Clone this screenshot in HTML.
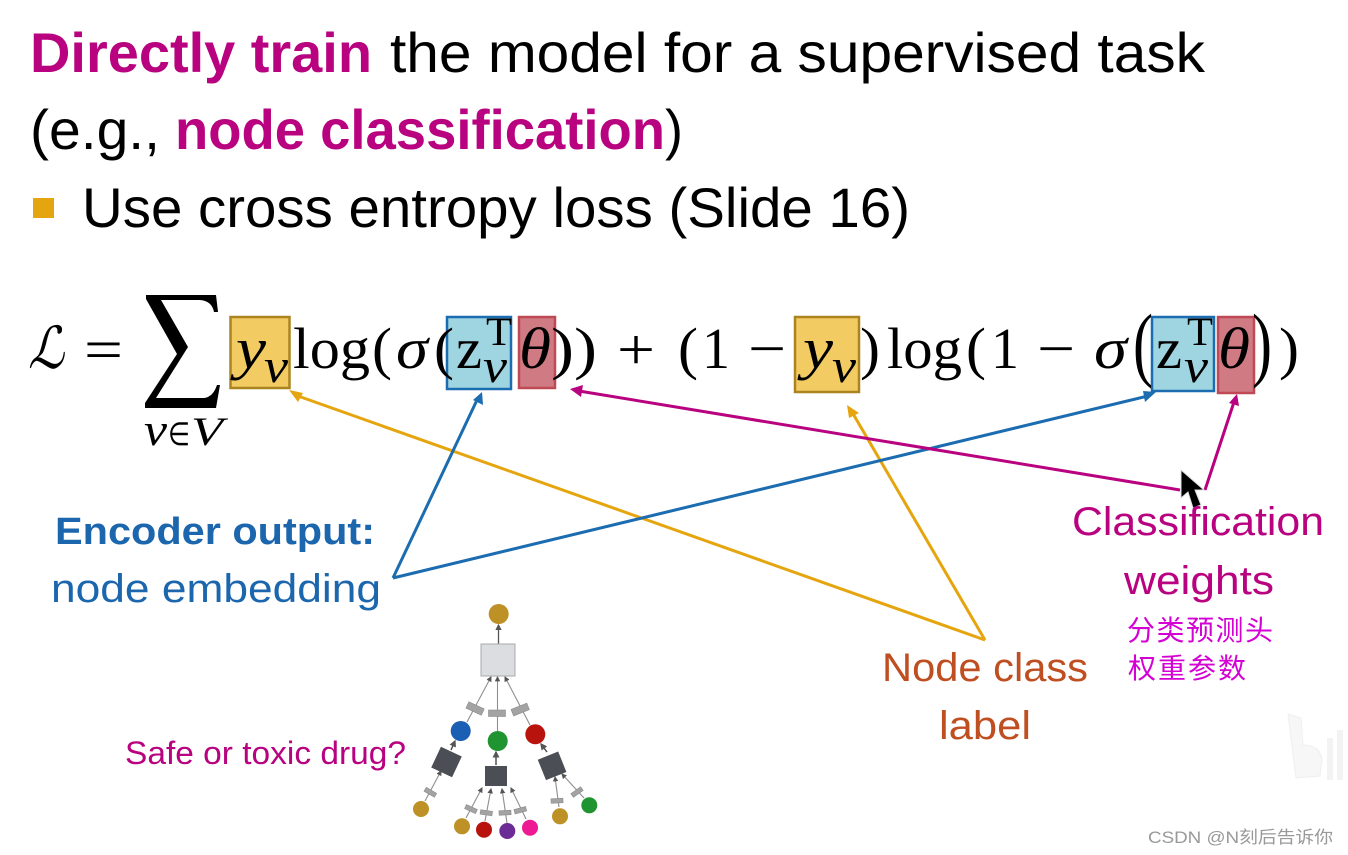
<!DOCTYPE html>
<html><head><meta charset="utf-8"><style>
html,body{margin:0;padding:0;background:#fff;width:1348px;height:855px;overflow:hidden}
svg{display:block}
.s{font-family:"Liberation Sans",sans-serif}
.m{font-family:"Liberation Serif",serif;fill:#000}
.i{font-style:italic}
</style></head><body>
<svg width="1348" height="855" viewBox="0 0 1348 855" xmlns="http://www.w3.org/2000/svg">
<defs>
<marker id="ag" markerWidth="5" markerHeight="5" refX="4" refY="2.5" orient="auto"><path d="M0,0L5,2.5L0,5Z" fill="#555"/></marker>
</defs>

<g class="s" font-size="56">
<text x="30" y="72" font-weight="bold" fill="#b8027f" textLength="342" lengthAdjust="spacingAndGlyphs">Directly train</text>
<text x="390" y="72" fill="#000" textLength="815" lengthAdjust="spacingAndGlyphs">the model for a supervised task</text>
<text x="30" y="149" fill="#000" textLength="130" lengthAdjust="spacingAndGlyphs">(e.g.,</text>
<text x="175" y="149" font-weight="bold" fill="#b8027f" textLength="490" lengthAdjust="spacingAndGlyphs">node classification</text>
<text x="665" y="149" fill="#000" textLength="18" lengthAdjust="spacingAndGlyphs">)</text>
<rect x="33" y="198" width="21" height="20" fill="#e5a50f"/>
<text x="82" y="227" fill="#000" textLength="828" lengthAdjust="spacingAndGlyphs">Use cross entropy loss (Slide 16)</text>
</g>

<rect x="230.500" y="317" width="59" height="71" fill="#f2cb63" stroke="#ab8420" stroke-width="2.5"/>
<rect x="447" y="317" width="64" height="72" fill="#9fd5e0" stroke="#1b6cb0" stroke-width="2.5"/>
<rect x="519" y="317" width="36" height="71" fill="#d07a84" stroke="#bf4a56" stroke-width="2.5"/>
<rect x="795" y="317" width="64" height="75" fill="#f2cb63" stroke="#ab8420" stroke-width="2.5"/>
<rect x="1152" y="317" width="62" height="74" fill="#9fd5e0" stroke="#1b6cb0" stroke-width="2.5"/>
<rect x="1218" y="317" width="36" height="76" fill="#d07a84" stroke="#bf4a56" stroke-width="2.5"/>

<g class="m" font-size="58">
<text x="28" y="368" class="m i" textLength="36" lengthAdjust="spacingAndGlyphs">ℒ</text>
<text x="84" y="369" textLength="39" lengthAdjust="spacingAndGlyphs">=</text>
<path d="M146,295H216L218,312H214Q212,301 200,300H161L188,347L156,398H204Q213,397 217,385H220L216,408H145V403L177,354L146,299Z" fill="#000"/>
<text x="144" y="445" font-size="46" class="m i" textLength="23" lengthAdjust="spacingAndGlyphs">v</text>
<text x="168" y="445" font-size="32" textLength="22" lengthAdjust="spacingAndGlyphs">∈</text>
<text x="191" y="445" font-size="40" class="m i" textLength="32" lengthAdjust="spacingAndGlyphs">V</text>

<text x="236" y="368" class="m i" textLength="30" lengthAdjust="spacingAndGlyphs">y</text>
<text x="264" y="382" font-size="48" class="m i" textLength="24" lengthAdjust="spacingAndGlyphs">v</text>
<text x="293" y="368" textLength="77" lengthAdjust="spacingAndGlyphs">log</text>
<text x="372" y="368" textLength="20" lengthAdjust="spacingAndGlyphs">(</text>
<text x="396" y="368" class="m i" textLength="32" lengthAdjust="spacingAndGlyphs">σ</text>
<text x="434" y="368" textLength="20" lengthAdjust="spacingAndGlyphs">(</text>
<text x="456" y="368" textLength="26" lengthAdjust="spacingAndGlyphs">z</text>
<text x="486" y="345" font-size="40" textLength="26" lengthAdjust="spacingAndGlyphs">T</text>
<text x="483" y="382" font-size="48" class="m i" textLength="24" lengthAdjust="spacingAndGlyphs">v</text>
<text x="519" y="368" class="m i" textLength="32" lengthAdjust="spacingAndGlyphs">θ</text>
<text x="551" y="368" textLength="46" lengthAdjust="spacingAndGlyphs">))</text>
<text x="617" y="369" textLength="38" lengthAdjust="spacingAndGlyphs">+</text>

<text x="678" y="368" textLength="20" lengthAdjust="spacingAndGlyphs">(</text>
<text x="702" y="368" textLength="28" lengthAdjust="spacingAndGlyphs">1</text>
<text x="748" y="368" textLength="38" lengthAdjust="spacingAndGlyphs">−</text>
<text x="803" y="368" class="m i" textLength="30" lengthAdjust="spacingAndGlyphs">y</text>
<text x="832" y="382" font-size="48" class="m i" textLength="24" lengthAdjust="spacingAndGlyphs">v</text>
<text x="860" y="368" textLength="20" lengthAdjust="spacingAndGlyphs">)</text>
<text x="887" y="368" textLength="75" lengthAdjust="spacingAndGlyphs">log</text>
<text x="966" y="368" textLength="20" lengthAdjust="spacingAndGlyphs">(</text>
<text x="991" y="368" textLength="28" lengthAdjust="spacingAndGlyphs">1</text>
<text x="1037" y="368" textLength="38" lengthAdjust="spacingAndGlyphs">−</text>
<text x="1094" y="368" class="m i" textLength="33" lengthAdjust="spacingAndGlyphs">σ</text>
<text transform="translate(1133 371) scale(1 1.43)" textLength="20" lengthAdjust="spacingAndGlyphs">(</text>
<text x="1156" y="368" textLength="26" lengthAdjust="spacingAndGlyphs">z</text>
<text x="1187" y="345" font-size="40" textLength="26" lengthAdjust="spacingAndGlyphs">T</text>
<text x="1184" y="382" font-size="48" class="m i" textLength="24" lengthAdjust="spacingAndGlyphs">v</text>
<text x="1218" y="368" class="m i" textLength="32" lengthAdjust="spacingAndGlyphs">θ</text>
<text transform="translate(1252 371) scale(1 1.43)" textLength="20" lengthAdjust="spacingAndGlyphs">)</text>
<text x="1279" y="368" textLength="20" lengthAdjust="spacingAndGlyphs">)</text>
</g>

<g fill="none" stroke-width="3">
<path d="M985,640L298,396" stroke="#e5a50f"/>
<path d="M985,640L852,412" stroke="#e5a50f"/>
<path d="M393,578L477,400" stroke="#1b6cb0"/>
<path d="M393,578L1148,396" stroke="#1b6cb0"/>
<path d="M1180,490L579,391" stroke="#b8027f"/>
<path d="M1205,490L1234,402" stroke="#b8027f"/>
</g>
<path d="M289,390L303,393L298,402Z" fill="#e5a50f"/>
<path d="M847,405L859,413L849,418Z" fill="#e5a50f"/>
<path d="M482,392L483,405L473,400Z" fill="#1b6cb0"/>
<path d="M1156,392L1145,402L1143,391Z" fill="#1b6cb0"/>
<path d="M570,389L583,385L581,397Z" fill="#b8027f"/>
<path d="M1237,394L1239,406L1229,403Z" fill="#b8027f"/>

<path d="M1181,470L1181,498L1188,492L1193,508L1201,505L1195,490L1204,490Z" fill="#000" stroke="#ddd" stroke-width="1"/>

<g class="s">
<text x="55" y="544" font-size="38" font-weight="bold" fill="#1b66ad" textLength="320" lengthAdjust="spacingAndGlyphs">Encoder output:</text>
<text x="51" y="602" font-size="40" fill="#1b66ad" textLength="330" lengthAdjust="spacingAndGlyphs">node embedding</text>
<text x="125" y="764" font-size="32" fill="#b8027f" textLength="281" lengthAdjust="spacingAndGlyphs">Safe or toxic drug?</text>
<text x="1072" y="535" font-size="40" fill="#b8027f" textLength="252" lengthAdjust="spacingAndGlyphs">Classification</text>
<text x="1124" y="594" font-size="40" fill="#b8027f" textLength="150" lengthAdjust="spacingAndGlyphs">weights</text>
<text x="882" y="681" font-size="40" fill="#bf4e20" textLength="206" lengthAdjust="spacingAndGlyphs">Node class</text>
<text x="939" y="739" font-size="40" fill="#bf4e20" textLength="92" lengthAdjust="spacingAndGlyphs">label</text>
</g>
<g font-family="'WenQuanYi Zen Hei','Noto Sans CJK SC',sans-serif" font-size="28" fill="#d400d4">
<text x="1127" y="640" textLength="146" lengthAdjust="spacing">分类预测头</text>
<text x="1128" y="678" textLength="118" lengthAdjust="spacing">权重参数</text>
</g>

<g stroke="#8f8f8f" stroke-width="1.1" fill="none" marker-end="url(#ag)">
<path d="M498.5,644V625" stroke="#555" stroke-width="1.3"/>
<path d="M467,722L491,677"/>
<path d="M497.5,731V677"/>
<path d="M530,725L505,677"/>
<path d="M451,750L455,741" stroke="#444" stroke-width="1.4"/>
<path d="M496,765V752" stroke="#444" stroke-width="1.4"/>
<path d="M547,752L541,744" stroke="#444" stroke-width="1.4"/>
<path d="M425,801L441,771"/>
<path d="M466,818L482,788"/>
<path d="M485,821L491,789"/>
<path d="M507,823L502,789"/>
<path d="M526,819L511,788"/>
<path d="M559,807L555,777"/>
<path d="M584,798L562,774"/>
</g>
<g fill="#a3a3a3" stroke="#8c8c8c" stroke-width=".6">
<rect x="466.5" y="705" width="17" height="7" transform="rotate(25 475 708.7)"/>
<rect x="488.5" y="710" width="17" height="6.5"/>
<rect x="511.8" y="706" width="17" height="7" transform="rotate(-22 520.3 709.7)"/>
<rect x="424.3" y="790" width="12" height="4.5" transform="rotate(30 430.3 792.3)"/>
<rect x="465" y="806.8" width="12" height="4.5" transform="rotate(25 471 809)"/>
<rect x="480.3" y="810.5" width="12" height="4.5" transform="rotate(8 486.3 812.7)"/>
<rect x="499" y="810.5" width="12" height="4.5" transform="rotate(-3 505 812.7)"/>
<rect x="514.3" y="808" width="12" height="4.5" transform="rotate(-15 520.3 810.3)"/>
<rect x="551" y="798.5" width="12" height="4.5" transform="rotate(-3 557 800.7)"/>
<rect x="571" y="789.8" width="12" height="4.5" transform="rotate(-35 577 792)"/>
</g>
<rect x="481" y="644" width="34" height="32" fill="#dcdde0" stroke="#a9a9a9"/>
<rect x="435" y="750.5" width="23" height="23" fill="#4b4e54" transform="rotate(25 446.5 762)"/>
<rect x="485" y="766" width="22" height="20" fill="#4b4e54"/>
<rect x="541" y="755" width="22" height="22" fill="#4b4e54" transform="rotate(-22 551.7 765.7)"/>
<circle cx="498.7" cy="614" r="10" fill="#bd9125"/>
<circle cx="460.7" cy="731" r="10" fill="#1b5fb5"/>
<circle cx="497.7" cy="741" r="10" fill="#1f9430"/>
<circle cx="535.3" cy="734.3" r="10" fill="#b8140d"/>
<circle cx="421" cy="809" r="8" fill="#bd9125"/>
<circle cx="462" cy="826.3" r="8" fill="#bd9125"/>
<circle cx="484" cy="829.7" r="8" fill="#b8140d"/>
<circle cx="507.3" cy="831" r="8" fill="#6b2c96"/>
<circle cx="530" cy="827.7" r="8" fill="#ed1a94"/>
<circle cx="560" cy="816.3" r="8" fill="#bd9125"/>
<circle cx="589.3" cy="805.3" r="8" fill="#1f9430"/>

<path d="M1288,714L1301,718L1303,745Q1320,745 1322,760L1320,776L1296,778Z" fill="#f7f7f7" stroke="#efefef"/>
<path d="M1330,738V780M1340,730V780" stroke="#f3f3f3" stroke-width="6" fill="none"/>
<text x="1148" y="843" font-family="'Liberation Sans','Noto Sans CJK SC',sans-serif" font-size="17" fill="#999" textLength="185" lengthAdjust="spacingAndGlyphs">CSDN @N刻后告诉你</text>
</svg>
</body></html>
